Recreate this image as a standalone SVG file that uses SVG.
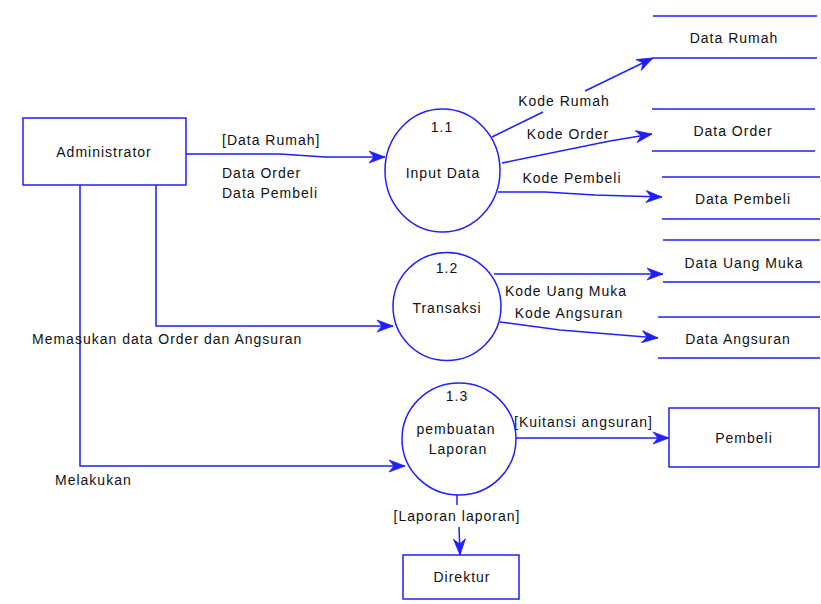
<svg xmlns="http://www.w3.org/2000/svg" width="821" height="604" viewBox="0 0 821 604">
<style>
text{font-family:"Liberation Sans",Arial,sans-serif;font-size:14px;fill:#111;letter-spacing:1px}
.m{text-anchor:middle}
.box,.proc{fill:#fff;stroke:#1f1fff;stroke-width:1.5}
.store{stroke:#1f1fff;stroke-width:1.5;fill:none}
.flow{fill:none;stroke:#1f1fff;stroke-width:1.5}
.arr{marker-end:url(#ah)}
</style>
<defs>
<marker id="ah" markerUnits="userSpaceOnUse" markerWidth="20" markerHeight="14" viewBox="-18 -7 20 14" refX="0" refY="0" orient="auto">
<path d="M-16,-6 L0,0 L-16,6 L-11,0 Z" fill="#1f1fff" stroke="#1f1fff" stroke-width="0.8"/>
</marker>
</defs>
<rect width="821" height="604" fill="#fff"/>
<g id="connectors">
<path class="flow arr" d="M186,154 L280,154 L325,157 L385,157"/>
<path class="flow" d="M492,137 L543,112"/>
<path class="flow arr" d="M585,91 L653,58"/>
<path class="flow arr" d="M502,163 L600,143 L610,141 L652,134"/>
<path class="flow arr" d="M498,192 L545,192 L595,195 L662,197"/>
<path class="flow arr" d="M494,274 L663,274"/>
<path class="flow arr" d="M500,322 L560,330 L658,338"/>
<path class="flow arr" d="M156,185 L156,326 L393,326"/>
<path class="flow arr" d="M80,185 L80,466 L405,466"/>
<path class="flow arr" d="M516,438 L669,438"/>
<path class="flow" d="M457,495 L457,505"/>
<path class="flow arr" d="M459,527 L460,555"/>
<text x="222" y="145">[Data Rumah]</text>
<text x="222" y="178">Data Order</text>
<text x="222" y="198">Data Pembeli</text>
<text class="m" x="564" y="106">Kode Rumah</text>
<text class="m" x="568" y="139">Kode Order</text>
<text class="m" x="572" y="183">Kode Pembeli</text>
<text class="m" x="566" y="296">Kode Uang Muka</text>
<text class="m" x="569" y="318">Kode Angsuran</text>
<text x="32" y="344">Memasukan data Order dan Angsuran</text>
<text x="55" y="485">Melakukan</text>
<text x="514" y="427">[Kuitansi angsuran]</text>
<text class="m" x="457" y="521">[Laporan laporan]</text>
</g>
<g id="administrator">
<rect class="box" x="23" y="118" width="163" height="67"/>
<text class="m" x="104" y="157">Administrator</text>
</g>
<g id="p11">
<ellipse class="proc" cx="442.5" cy="170.5" rx="57.5" ry="61.5"/>
<text class="m" x="442" y="132">1.1</text>
<text class="m" x="443" y="178">Input Data</text>
</g>
<g id="p12">
<circle class="proc" cx="447" cy="306.5" r="54"/>
<text class="m" x="447" y="273">1.2</text>
<text class="m" x="447" y="313">Transaksi</text>
</g>
<g id="p13">
<ellipse class="proc" cx="459" cy="439" rx="57" ry="56"/>
<text class="m" x="457" y="401">1.3</text>
<text class="m" x="456" y="434">pembuatan</text>
<text class="m" x="458" y="454">Laporan</text>
</g>
<g id="ds-rumah">
<path class="store" d="M653,16 H817 M653,58 H817"/>
<text class="m" x="734" y="43">Data Rumah</text>
</g>
<g id="ds-order">
<path class="store" d="M652,109 H815 M652,151 H815"/>
<text class="m" x="733" y="136">Data Order</text>
</g>
<g id="ds-pembeli">
<path class="store" d="M662,177 H820 M662,219 H820"/>
<text class="m" x="743" y="204">Data Pembeli</text>
</g>
<g id="ds-uangmuka">
<path class="store" d="M663,240 H820 M663,282 H820"/>
<text class="m" x="744" y="268">Data Uang Muka</text>
</g>
<g id="ds-angsuran">
<path class="store" d="M658,317 H820 M658,358 H820"/>
<text class="m" x="738" y="344">Data Angsuran</text>
</g>
<g id="pembeli">
<rect class="box" x="669" y="408" width="150" height="59"/>
<text class="m" x="744" y="443">Pembeli</text>
</g>
<g id="direktur">
<rect class="box" x="403" y="555" width="116" height="44"/>
<text class="m" x="462" y="582">Direktur</text>
</g>
</svg>
